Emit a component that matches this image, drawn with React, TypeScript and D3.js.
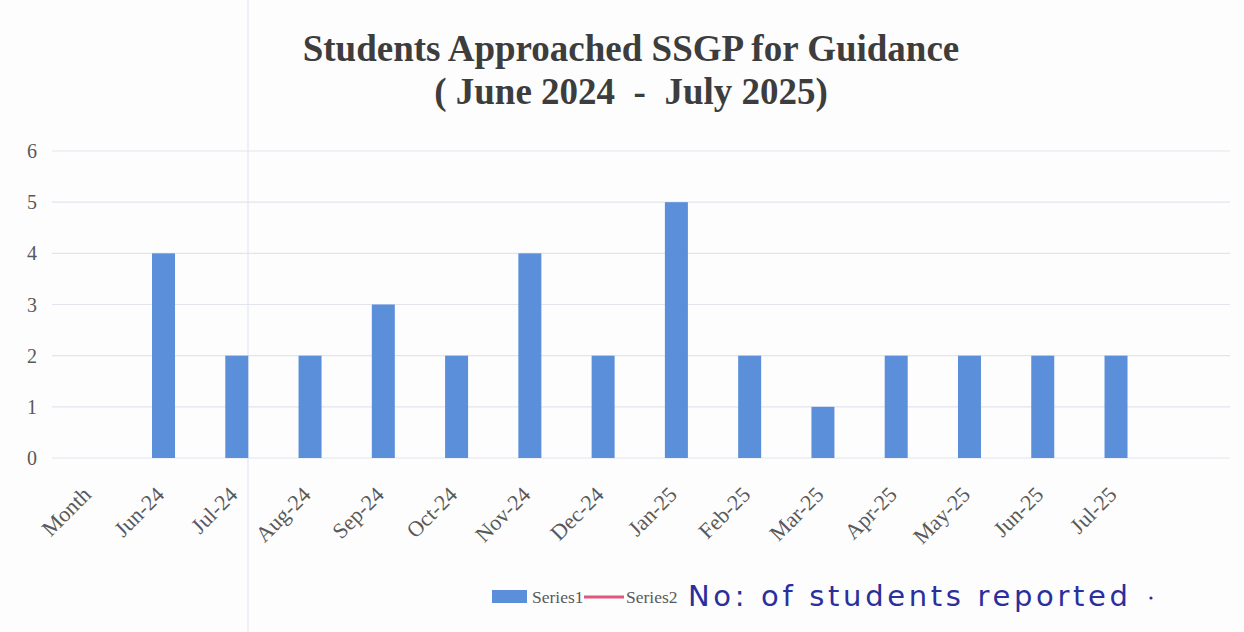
import React, { useEffect, useRef } from "react";
import * as d3 from "d3";

const months = [
  "Month", "Jun-24", "Jul-24", "Aug-24", "Sep-24", "Oct-24", "Nov-24", "Dec-24",
  "Jan-25", "Feb-25", "Mar-25", "Apr-25", "May-25", "Jun-25", "Jul-25",
];
const series1 = [0, 4, 2, 2, 3, 2, 4, 2, 5, 2, 1, 2, 2, 2, 2];
const yTicks = [0, 1, 2, 3, 4, 5, 6];
const titleLines = ["Students Approached SSGP for Guidance", "( June 2024  -  July 2025)"];
const legendNames = ["Series1", "Series2"];
const note = "No: of students reported";

const W = 1244;
const H = 632;

const App = () => {
  const svgRef = useRef<SVGSVGElement>(null);

  useEffect(() => {
    document.body.style.margin = "0";
    const svg = d3.select(svgRef.current);
    svg.selectAll("*").remove();

    const serif = "'Liberation Serif', 'Times New Roman', serif";
    const gray = "#595959";

    svg.append("rect").attr("width", W).attr("height", H).attr("fill", "#fdfdfe");

    // scan fold line
    svg.append("line")
      .attr("x1", 248).attr("x2", 248).attr("y1", 0).attr("y2", H)
      .attr("stroke", "#eef0f7").attr("stroke-width", 2);

    const step = 73.27;
    const x0 = 53.6;
    const x = d3.scaleBand<string>()
      .domain(months)
      .range([x0, x0 + step * months.length])
      .padding(0);
    const y = d3.scaleLinear().domain([0, 6]).range([458, 151]);

    // gridlines
    svg.append("g")
      .selectAll("line")
      .data(yTicks)
      .enter()
      .append("line")
      .attr("x1", 52)
      .attr("x2", 1230)
      .attr("y1", (d) => y(d))
      .attr("y2", (d) => y(d))
      .attr("stroke", "#e3e5ee")
      .attr("stroke-width", 1.2);

    // y axis labels
    svg.append("g")
      .selectAll("text")
      .data(yTicks)
      .enter()
      .append("text")
      .attr("x", 37)
      .attr("y", (d) => y(d))
      .attr("dy", "0.35em")
      .attr("text-anchor", "end")
      .attr("font-family", serif)
      .attr("font-size", 20)
      .attr("fill", gray)
      .text((d) => d);

    // bars
    const barW = 23;
    svg.append("g")
      .selectAll("rect")
      .data(series1)
      .enter()
      .append("rect")
      .attr("x", (d, i) => (x(months[i]) as number) + x.bandwidth() / 2 - barW / 2)
      .attr("y", (d) => y(d))
      .attr("width", barW)
      .attr("height", (d) => y(0) - y(d))
      .attr("fill", "#5b8fd9");

    // x labels
    svg.append("g")
      .selectAll("text")
      .data(months)
      .enter()
      .append("text")
      .attr("transform", (d) => {
        const cx = (x(d) as number) + x.bandwidth() / 2 + 2;
        return `translate(${cx},${496}) rotate(-45)`;
      })
      .attr("text-anchor", "end")
      .attr("font-family", serif)
      .attr("font-size", 22)
      .attr("fill", gray)
      .text((d) => d);

    // title
    svg.append("g")
      .selectAll("text")
      .data(titleLines)
      .enter()
      .append("text")
      .attr("x", 631)
      .attr("y", (d, i) => 61 + i * 43)
      .attr("text-anchor", "middle")
      .attr("font-family", serif)
      .attr("font-weight", "bold")
      .attr("font-size", 37)
      .attr("fill", "#3d3d3d")
      .style("white-space", "pre")
      .text((d) => d);

    // legend
    const lg = svg.append("g");
    lg.append("rect")
      .attr("x", 492).attr("y", 590).attr("width", 35).attr("height", 13)
      .attr("fill", "#5b8fd9");
    lg.append("text")
      .attr("x", 532).attr("y", 603)
      .attr("font-family", serif).attr("font-size", 17.5).attr("fill", gray)
      .text(legendNames[0]);
    lg.append("line")
      .attr("x1", 584).attr("x2", 624).attr("y1", 597).attr("y2", 597)
      .attr("stroke", "#e0577e").attr("stroke-width", 3);
    lg.append("text")
      .attr("x", 626).attr("y", 603)
      .attr("font-family", serif).attr("font-size", 17.5).attr("fill", gray)
      .text(legendNames[1]);

    // handwritten note
    lg.append("text")
      .attr("x", 688).attr("y", 606)
      .attr("font-family", "'DejaVu Sans', sans-serif")
      .attr("font-size", 29)
      .attr("fill", "#2a2f9c")
      .attr("textLength", 440)
      .attr("lengthAdjust", "spacing")
      .text(note);
    lg.append("circle")
      .attr("cx", 1151).attr("cy", 598).attr("r", 1.6)
      .attr("fill", "#2a2f9c");
  }, []);

  return <svg ref={svgRef} width={W} height={H} style={{ display: "block" }}></svg>;
};

export default App;
